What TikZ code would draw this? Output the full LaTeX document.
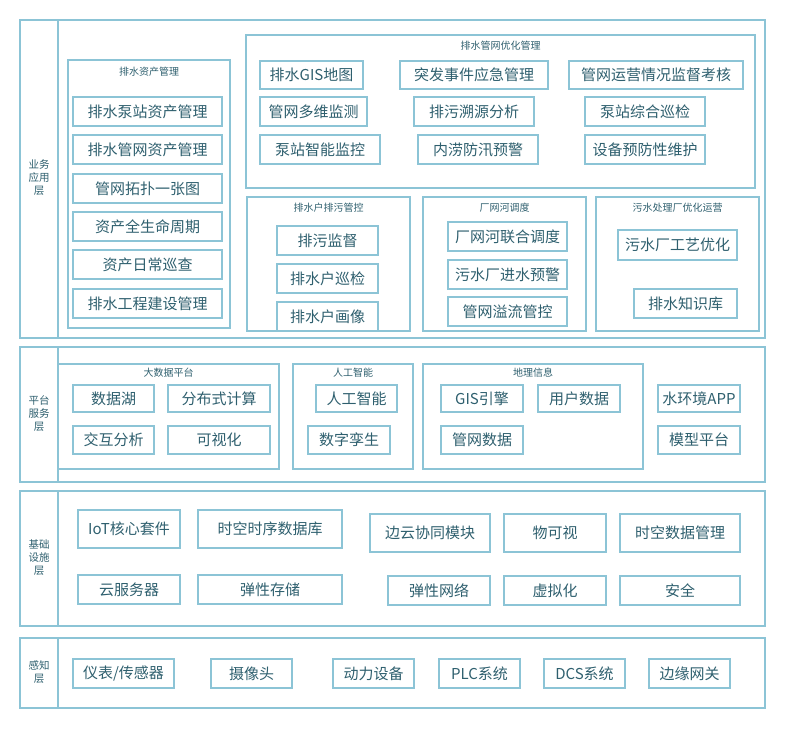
\documentclass[tikz,border=0pt]{standalone}
\usepackage{fontspec}
\setmainfont{Noto Sans CJK SC}
\definecolor{bd}{HTML}{8CC4D6}
\definecolor{tx}{HTML}{2E5F6E}
\begin{document}
\begin{tikzpicture}[x=1pt,y=-1pt,
  bx/.style={draw=bd,line width=1.3pt,text=tx},
  grp/.style={draw=bd,line width=1.3pt},
  big/.style={font=\fontsize{15}{16}\selectfont,text=tx},
  small/.style={font=\fontsize{10}{11}\selectfont,text=tx},
  lab/.style={font=\fontsize{10.5}{13}\selectfont,text=tx,align=center}]
\useasboundingbox (0,0) rectangle (805,738);
\newcommand\B[5]{\draw[bx] (#1,#2) rectangle (#3,#4) node[pos=.5,big]{#5};}
\newcommand\G[6]{\draw[grp] (#1,#2) rectangle (#3,#4); \node[small] at ({(#1+#3)/2},#5) {#6};}
% layers
\draw[grp] (20,20) rectangle (765,338); \draw[grp] (58,20) -- (58,338);
\node[lab] (l1) at (39,178) {业务\\应用\\层};
\draw[grp] (20,347) rectangle (765,482); \draw[grp] (58,347) -- (58,482);
\node[lab] (l2) at (39,414) {平台\\服务\\层};
\draw[grp] (20,491) rectangle (765,626); \draw[grp] (58,491) -- (58,626);
\node[lab] (l3) at (39,558) {基础\\设施\\层};
\draw[grp] (20,638) rectangle (765,708); \draw[grp] (58,638) -- (58,708);
\node[lab] (l4) at (39,672) {感知\\层};
% layer1
\G{68}{60}{230}{328}{72}{排水资产管理}
\B{73}{97}{222}{126}{排水泵站资产管理}
\B{73}{135}{222}{164}{排水管网资产管理}
\B{73}{174}{222}{203}{管网拓扑一张图}
\B{73}{212}{222}{241}{资产全生命周期}
\B{73}{250}{222}{279}{资产日常巡查}
\B{73}{289}{222}{318}{排水工程建设管理}
\G{246}{35}{755}{188}{46}{排水管网优化管理}
\B{260}{61}{363}{89}{排水GIS地图}
\B{400}{61}{548}{89}{突发事件应急管理}
\B{569}{61}{743}{89}{管网运营情况监督考核}
\B{260}{97}{367}{126}{管网多维监测}
\B{414}{97}{534}{126}{排污溯源分析}
\B{585}{97}{705}{126}{泵站综合巡检}
\B{260}{135}{380}{164}{泵站智能监控}
\B{418}{135}{538}{164}{内涝防汛预警}
\B{585}{135}{705}{164}{设备预防性维护}
\G{247}{197}{410}{331}{208}{排水户排污管控}
\B{277}{226}{378}{255}{排污监督}
\B{277}{264}{378}{293}{排水户巡检}
\B{277}{302}{378}{331}{排水户画像}
\G{423}{197}{586}{331}{208}{厂网河调度}
\B{448}{222}{567}{251}{厂网河联合调度}
\B{448}{260}{567}{289}{污水厂进水预警}
\B{448}{297}{567}{326}{管网溢流管控}
\G{596}{197}{759}{331}{208}{污水处理厂优化运营}
\B{618}{230}{737}{260}{污水厂工艺优化}
\B{634}{289}{737}{318}{排水知识库}
% layer2
\G{58}{364}{279}{469}{373}{大数据平台}
\B{73}{385}{154}{412}{数据湖}
\B{168}{385}{270}{412}{分布式计算}
\B{73}{426}{154}{454}{交互分析}
\B{168}{426}{270}{454}{可视化}
\G{293}{364}{413}{469}{373}{人工智能}
\B{316}{385}{397}{412}{人工智能}
\B{308}{426}{390}{454}{数字孪生}
\G{423}{364}{643}{469}{373}{地理信息}
\B{441}{385}{523}{412}{GIS引擎}
\B{538}{385}{620}{412}{用户数据}
\B{441}{426}{523}{454}{管网数据}
\B{658}{385}{740}{412}{水环境APP}
\B{658}{426}{740}{454}{模型平台}
% layer3
\B{78}{510}{180}{548}{IoT核心套件}
\B{198}{510}{342}{548}{时空时序数据库}
\B{370}{514}{490}{552}{边云协同模块}
\B{504}{514}{606}{552}{物可视}
\B{620}{514}{740}{552}{时空数据管理}
\B{78}{575}{180}{604}{云服务器}
\B{198}{575}{342}{604}{弹性存储}
\B{388}{576}{490}{605}{弹性网络}
\B{504}{576}{606}{605}{虚拟化}
\B{620}{576}{740}{605}{安全}
% layer4
\B{73}{659}{174}{688}{仪表/传感器}
\B{211}{659}{292}{688}{摄像头}
\B{333}{659}{414}{688}{动力设备}
\B{439}{659}{520}{688}{PLC系统}
\B{544}{659}{625}{688}{DCS系统}
\B{649}{659}{730}{688}{边缘网关}
\end{tikzpicture}
\end{document}
